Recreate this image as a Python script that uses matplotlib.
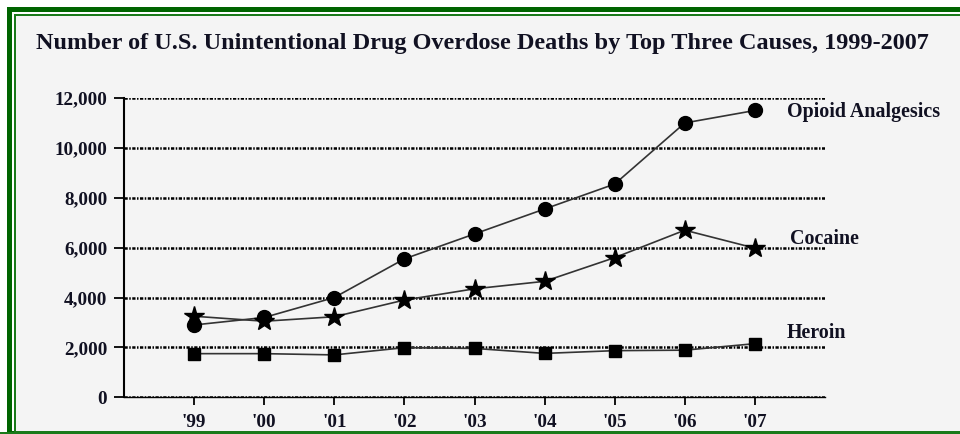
import matplotlib
matplotlib.use("Agg")
import matplotlib.pyplot as plt
from matplotlib.patches import Rectangle

years = [1999, 2000, 2001, 2002, 2003, 2004, 2005, 2006, 2007]
year_labels = ["'99", "'00", "'01", "'02", "'03", "'04", "'05", "'06", "'07"]
opioid = [2900, 3200, 4000, 5550, 6550, 7550, 8550, 11000, 11500]
cocaine = [3250, 3050, 3230, 3900, 4350, 4650, 5600, 6700, 5980]
heroin = [1750, 1750, 1700, 1990, 1960, 1760, 1870, 1890, 2150]
yticks = [0, 2000, 4000, 6000, 8000, 10000, 12000]
ytick_labels = ["0", "2,000", "4,000", "6,000", "8,000", "10,000", "12,000"]
title = "Number of U.S. Unintentional Drug Overdose Deaths by Top Three Causes, 1999-2007"
series_names = ["Opioid Analgesics", "Cocaine", "Heroin"]

W, H = 960, 434
fig = plt.figure(figsize=(W / 100, H / 100), dpi=100)
fig.patch.set_facecolor("white")

bg = fig.add_axes([0, 0, 1, 1])
bg.set_xlim(0, W)
bg.set_ylim(H, 0)
bg.axis("off")
bg.add_patch(Rectangle((7, 7), W + 20, H, facecolor="#006400", edgecolor="none"))
bg.add_patch(Rectangle((12, 12), W + 20, 419, facecolor="white", edgecolor="none"))
bg.add_patch(Rectangle((14, 14), W + 20, 418, facecolor="#1a7a1a", edgecolor="none"))
bg.add_patch(Rectangle((15.5, 15.5), W + 20, 415.5, facecolor="#f4f4f4", edgecolor="none"))
bg.add_patch(Rectangle((0, 431.5), W, 3, facecolor="#1a7a1a", edgecolor="none"))

serif = "Liberation Serif"
txtc = "#111122"
bg.text(36, 44, title, fontsize=17.5, fontweight="bold", family=serif, color=txtc,
        va="center", ha="left")

x0, x1 = 124, 825
y0, y1 = 98, 397.3
ax = fig.add_axes([x0 / W, (H - y1) / H, (x1 - x0) / W, (y1 - y0) / H])
ax.set_facecolor("none")
ax.set_xlim(1998, 2008)
ax.set_ylim(0, 12000)

for v in yticks:
    ax.axhline(v, color="black", lw=1.8, linestyle=(0, (1.3, 0.6, 0.6, 0.6)), zorder=1)

for s in ["top", "right"]:
    ax.spines[s].set_visible(False)
ax.spines["left"].set_linewidth(1.5)
ax.spines["bottom"].set_linewidth(1.0)
ax.spines["left"].set_color("black")
ax.spines["bottom"].set_color("black")

ax.set_yticks(yticks)
ax.set_yticklabels(ytick_labels)
ax.set_xticks(years)
ax.set_xticklabels(year_labels)
ax.tick_params(axis="y", direction="out", length=7, width=1.3, pad=5, colors="black")
ax.tick_params(axis="x", direction="out", length=6, width=1.3, pad=6, colors="black")
for lab in ax.get_yticklabels() + ax.get_xticklabels():
    lab.set_fontfamily(serif)
    lab.set_fontweight("bold")
    lab.set_fontsize(13.8)
    lab.set_color(txtc)

lc = "#333333"
ax.plot(years, opioid, color=lc, lw=1.2, marker="o", markersize=10,
        markerfacecolor="black", markeredgecolor="black", zorder=3, clip_on=False)
ax.plot(years, cocaine, color=lc, lw=1.2, marker="*", markersize=15,
        markerfacecolor="black", markeredgecolor="black", zorder=3, clip_on=False)
ax.plot(years, heroin, color=lc, lw=1.2, marker="s", markersize=8,
        markerfacecolor="black", markeredgecolor="black", zorder=3, clip_on=False)

label_x = [2007.46, 2007.5, 2007.46]
label_y = [11440, 6350, 2580]
for name, xv, yv in zip(series_names, label_x, label_y):
    ax.text(xv, yv, name, fontsize=14.4, fontweight="bold", family=serif,
            color=txtc, va="center", ha="left", clip_on=False)

fig.savefig("out.png", dpi=100, facecolor=fig.get_facecolor())
